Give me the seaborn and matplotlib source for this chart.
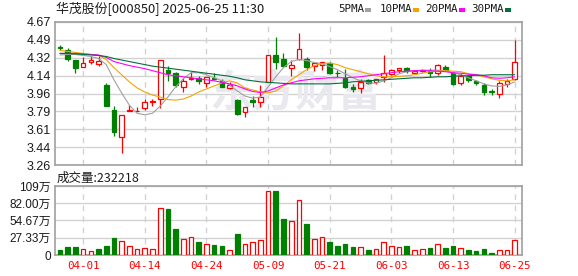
import numpy as np
import matplotlib
matplotlib.use("Agg")
import matplotlib.pyplot as plt
import seaborn as sns

# ---------------- data ----------------
dates = ["03-27", "03-28", "03-31", "04-01", "04-02", "04-03", "04-07", "04-08", "04-09", "04-10",
         "04-11", "04-14", "04-15", "04-16", "04-17", "04-18", "04-21", "04-22", "04-23", "04-24",
         "04-25", "04-28", "04-29", "04-30", "05-06", "05-07", "05-08", "05-09", "05-12", "05-13",
         "05-14", "05-15", "05-16", "05-19", "05-20", "05-21", "05-22", "05-23", "05-26", "05-27",
         "05-28", "05-29", "05-30", "06-03", "06-04", "06-05", "06-06", "06-09", "06-10", "06-11",
         "06-12", "06-13", "06-16", "06-17", "06-18", "06-19", "06-20", "06-23", "06-24", "06-25"]

open_ = [4.42, 4.39, 4.30, 4.23, 4.275, 4.26, 4.05, 3.80, 3.54, 3.79,
         3.79, 3.82, 3.885, 3.91, 4.20, 4.165, 4.03, 4.105, 4.115, 4.065,
         4.12, 4.09, 4.015, 3.90, 3.785, 3.905, 3.885, 4.08, 4.34, 4.305,
         4.22, 4.31, 4.31, 4.235, 4.245, 4.27, 4.172, 4.115, 4.026, 4.02,
         4.098, 4.08, 4.125, 4.155, 4.197, 4.213, 4.17, 4.19, 4.19, 4.164,
         4.223, 4.17, 4.071, 4.138, 4.088, 4.049, 3.99, 3.96, 4.056, 4.105]
high = [4.44, 4.41, 4.30, 4.32, 4.33, 4.33, 4.07, 3.84, 3.75, 3.85,
        3.83, 3.91, 3.915, 4.30, 4.24, 4.18, 4.115, 4.18, 4.14, 4.125,
        4.165, 4.11, 4.08, 3.91, 3.83, 3.94, 4.05, 4.345, 4.52, 4.36,
        4.30, 4.565, 4.32, 4.27, 4.28, 4.28, 4.197, 4.205, 4.056, 4.105,
        4.105, 4.11, 4.345, 4.21, 4.215, 4.23, 4.197, 4.21, 4.22, 4.26,
        4.246, 4.18, 4.164, 4.147, 4.10, 4.071, 4.01, 4.09, 4.105, 4.493]
low = [4.39, 4.29, 4.17, 4.23, 4.26, 4.24, 3.84, 3.55, 3.38, 3.79,
       3.79, 3.80, 3.84, 3.82, 4.09, 4.03, 3.98, 4.10, 4.06, 4.03,
       4.10, 4.03, 4.01, 3.75, 3.735, 3.83, 3.83, 4.08, 4.21, 4.23,
       4.14, 4.30, 4.20, 4.19, 4.20, 4.16, 4.13, 4.02, 3.983, 3.967,
       4.06, 4.056, 4.08, 4.15, 4.164, 4.164, 4.164, 4.18, 4.131, 4.147,
       4.19, 4.05, 4.049, 4.081, 4.049, 3.95, 3.95, 3.924, 4.032, 4.10]
close = [4.415, 4.31, 4.22, 4.27, 4.30, 4.285, 3.84, 3.59, 3.75, 3.80,
         3.795, 3.88, 3.895, 4.30, 4.165, 4.05, 4.09, 4.12, 4.09, 4.125,
         4.11, 4.03, 4.05, 3.765, 3.83, 3.88, 3.935, 4.345, 4.28, 4.235,
         4.245, 4.40, 4.23, 4.265, 4.275, 4.165, 4.165, 4.03, 4.009, 4.08,
         4.071, 4.105, 4.17, 4.197, 4.213, 4.187, 4.19, 4.20, 4.164, 4.246,
         4.197, 4.059, 4.138, 4.098, 4.066, 3.983, 3.975, 4.073, 4.091, 4.279]

ma5 = [4.345, 4.35, 4.35, 4.34, 4.33, 4.31, 4.25, 4.10, 3.97, 3.85,
       3.77, 3.755, 3.77, 3.84, 3.93, 4.03, 4.11, 4.17, 4.17, 4.15,
       4.12, 4.09, 4.05, 3.99, 3.94, 3.92, 3.93, 4.03, 4.13, 4.22,
       4.28, 4.30, 4.29, 4.27, 4.26, 4.23, 4.20, 4.16, 4.12, 4.09,
       4.07, 4.066, 4.09, 4.12, 4.16, 4.18, 4.19, 4.195, 4.195, 4.195,
       4.19, 4.17, 4.15, 4.12, 4.09, 4.06, 4.04, 4.035, 4.05, 4.08]
ma10 = [4.39, 4.38, 4.37, 4.36, 4.35, 4.34, 4.30, 4.22, 4.15, 4.08,
        4.02, 3.98, 3.95, 3.93, 3.905, 3.90, 3.91, 3.94, 3.98, 4.01,
        4.04, 4.07, 4.09, 4.07, 4.02, 4.00, 3.98, 3.97, 3.99, 4.04,
        4.10, 4.15, 4.20, 4.24, 4.26, 4.265, 4.25, 4.22, 4.20, 4.18,
        4.16, 4.14, 4.13, 4.13, 4.135, 4.14, 4.15, 4.165, 4.18, 4.185,
        4.19, 4.185, 4.18, 4.16, 4.15, 4.13, 4.11, 4.095, 4.09, 4.10]
ma20 = [4.36, 4.36, 4.36, 4.355, 4.35, 4.345, 4.32, 4.28, 4.26, 4.24,
        4.225, 4.21, 4.19, 4.17, 4.15, 4.14, 4.13, 4.12, 4.11, 4.10,
        4.09, 4.075, 4.06, 4.04, 4.01, 3.985, 3.975, 3.99, 4.02, 4.05,
        4.07, 4.09, 4.10, 4.11, 4.115, 4.12, 4.12, 4.12, 4.125, 4.13,
        4.14, 4.15, 4.16, 4.17, 4.18, 4.185, 4.19, 4.19, 4.19, 4.185,
        4.18, 4.17, 4.165, 4.155, 4.15, 4.14, 4.12, 4.115, 4.12, 4.13]
ma30 = [4.36, 4.36, 4.355, 4.35, 4.345, 4.34, 4.33, 4.31, 4.295, 4.28,
        4.265, 4.25, 4.235, 4.225, 4.215, 4.205, 4.195, 4.185, 4.175, 4.165,
        4.155, 4.145, 4.135, 4.12, 4.10, 4.09, 4.08, 4.075, 4.07, 4.065,
        4.06, 4.06, 4.06, 4.06, 4.06, 4.06, 4.065, 4.07, 4.08, 4.085,
        4.09, 4.095, 4.10, 4.105, 4.11, 4.115, 4.12, 4.12, 4.125, 4.13,
        4.13, 4.135, 4.14, 4.14, 4.145, 4.145, 4.15, 4.15, 4.15, 4.15]

volume = [7.9, 12.1, 12.1, 9.0, 5.8, 9.5, 14.3, 26.9, 21.6, 13.7,
          9.5, 11.1, 9.5, 74.0, 72.9, 41.2, 25.4, 28.0, 20.6, 16.9,
          15.8, 14.3, 7.4, 33.3, 16.9, 20.1, 23.8, 100.9, 101.4, 57.0,
          53.9, 87.1, 49.1, 25.4, 28.0, 20.6, 14.3, 17.4, 12.7, 12.1,
          7.9, 9.5, 20.1, 14.3, 12.1, 14.3, 7.4, 9.5, 11.1, 16.9,
          11.1, 14.3, 11.1, 7.9, 6.3, 9.5, 3.2, 7.4, 7.4, 23.22]
vol_up = [0, 0, 0, 1, 1, 0, 0, 0, 1, 1,
          1, 1, 1, 1, 0, 0, 1, 1, 0, 1,
          0, 0, 1, 0, 1, 1, 1, 1, 0, 0,
          1, 1, 0, 1, 1, 0, 0, 0, 0, 1,
          0, 1, 1, 1, 1, 0, 1, 1, 0, 1,
          0, 0, 1, 0, 0, 0, 0, 1, 1, 1]

price_ticks = [3.26, 3.43625, 3.6125, 3.78875, 3.965, 4.14125, 4.3175, 4.49375, 4.67]
vol_ticks = [0, 27.333, 54.667, 82.0, 109.333]
vol_tick_labels = ["0", "27.33万", "54.67万", "82.00万", "109万"]
date_tick_idx = [3, 11, 19, 27, 35, 43, 51, 59]
ma_names = ["5PMA", "10PMA", "20PMA", "30PMA"]

title_text = "华茂股份[000850] 2025-06-25 11:30"
vol_title = "成交量:232218"

# ---------------- style ----------------
sns.set_theme(style="white")
plt.rcParams["font.family"] = ["Liberation Sans", "Noto Sans CJK SC", "DejaVu Sans"]

RED = "#ff0000"
GREEN = "#008000"
MA_COLORS = ["#a0a0a0", "#f5a300", "#ff00ff", "#00703c"]
GRID = "#d2d2d2"
SPINE = "#a0a0a0"
TXT = "#1a1a1a"

W, H = 578, 276
fig = plt.figure(figsize=(W / 100, H / 100), dpi=100)
fig.patch.set_facecolor("white")
L, R = 55, 522
ax = fig.add_axes([L / W, 1 - 165 / H, (R - L) / W, (165 - 22) / H])
axv = fig.add_axes([L / W, 1 - 255 / H, (R - L) / W, (255 - 186) / H])

n = len(close)
x = np.arange(n)
o = np.array(open_); c = np.array(close); hi = np.array(high); lo = np.array(low)
up = c >= o
cols = [RED if u else GREEN for u in up]
faces = ["white" if u else GREEN for u in up]

# watermark
ax.text(0.515, 0.50, "东方财富", transform=ax.transAxes, ha="center", va="center",
        fontsize=31, color="#e8e8ee", fontweight="bold",
        family=["Noto Sans CJK SC"], zorder=0.8)

# candles
ax.vlines(x, lo, hi, colors=cols, linewidth=0.9, zorder=2)
body_bottom = np.minimum(o, c)
body_h = np.maximum(np.abs(c - o), 0.003)
ax.bar(x, body_h, bottom=body_bottom, width=0.6, color=faces,
       edgecolor=cols, linewidth=0.9, zorder=3)

# moving averages
for vals, col in zip([ma5, ma10, ma20, ma30], MA_COLORS):
    sns.lineplot(x=x, y=vals, ax=ax, color=col, linewidth=0.8, legend=False, zorder=4)

ax.set_xlim(-0.65, 59.95)
ax.set_ylim(price_ticks[0], price_ticks[-1])
ax.set_yticks(price_ticks)
ax.set_yticklabels([f"{t:.2f}" for t in price_ticks], fontsize=9, color=TXT)
ax.set_xticks([])
ax.set_xlabel(""); ax.set_ylabel("")

# volume
sns.barplot(x=x, y=volume, ax=axv, width=0.6, color=GREEN, zorder=3)
for p, u in zip(axv.patches, vol_up):
    p.set_facecolor("white" if u else GREEN)
    p.set_edgecolor(RED if u else GREEN)
    p.set_linewidth(0.9)
axv.set_xlim(-0.65, 59.95)
axv.set_ylim(0, vol_ticks[-1])
axv.set_yticks(vol_ticks)
axv.set_yticklabels(vol_tick_labels, fontsize=8.5, color=TXT)
axv.set_xticks(date_tick_idx)
axv.set_xticklabels([dates[i] for i in date_tick_idx], fontsize=7.8, color=RED,
                    family=["DejaVu Sans Mono"])
axv.set_xlabel(""); axv.set_ylabel("")

for a in (ax, axv):
    a.set_axisbelow(True)
    a.yaxis.grid(True, color=GRID, linewidth=1, linestyle="-")
    a.xaxis.grid(False)
    for xi in date_tick_idx:
        a.axvline(xi, color=GRID, linewidth=1, linestyle=(0, (4, 4)), zorder=0.5)
    for s in a.spines.values():
        s.set_visible(True)
        s.set_color(SPINE)
        s.set_linewidth(1.2)
    a.tick_params(axis="both", length=0, pad=3)
axv.tick_params(axis="x", pad=4)

# title and legends
fig.text(56 / W, 1 - 9 / H, title_text, ha="left", va="center", fontsize=9.3,
         family=["Noto Sans CJK SC"], color=TXT)
fig.text(57 / W, 1 - 178 / H, vol_title, ha="left", va="center", fontsize=9,
         family=["Noto Sans CJK SC"], color=TXT)

leg_text_x = [338, 380, 425, 471]
leg_box_x = [365, 413, 459, 505]
for name, tx, bx, col in zip(ma_names, leg_text_x, leg_box_x, MA_COLORS):
    fig.text(tx / W, 1 - 9 / H, name, ha="left", va="center", fontsize=7.8,
             family=["DejaVu Sans Mono"], color=TXT)
    fig.patches.append(plt.Rectangle((bx / W, 1 - 11.5 / H), 6 / W, 3 / H,
                                     transform=fig.transFigure, facecolor=col,
                                     edgecolor="none", figure=fig))

fig.savefig("out.png", dpi=100, facecolor="white")
